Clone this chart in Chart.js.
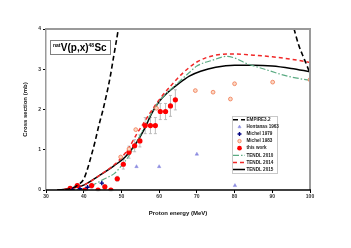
<!DOCTYPE html>
<html>
<head>
<meta charset="utf-8">
<script src="https://cdn.jsdelivr.net/npm/chart.js@4"></script>
<style>
  html, body { margin: 0; padding: 0; background: #fff; }
</style>
</head>
<body>
<canvas id="xs" width="351" height="248"></canvas>
<script>
// energies in MeV, cross sections in mb
const empireE = [33, 35, 37, 39, 40, 41, 42, 43, 44, 45, 46, 47, 48, 49, 49.6, null, 95.2, 97, 98.5, 100];
const empireV = [0, 0.01, 0.05, 0.16, 0.27, 0.52, 0.85, 1.2, 1.6, 1.95, 2.35, 2.8, 3.35, 3.9, 4.3, null, 4.2, 3.6, 3.25, 2.9];

const t2015E = [33, 36, 40, 44, 48, 51, 54, 56, 58, 60, 62, 65, 68, 71, 75, 80, 85, 90, 95, 100];
const t2015V = [0, 0.03, 0.12, 0.35, 0.6, 0.82, 1.18, 1.5, 1.9, 2.2, 2.4, 2.63, 2.83, 2.95, 3.05, 3.1, 3.1, 3.08, 3.02, 2.94];

const t2014E = [33, 36, 40, 44, 48, 50, 52, 54, 56, 58, 60, 63, 66, 70, 75, 80, 85, 90, 95, 100];
const t2014V = [0, 0.03, 0.12, 0.35, 0.62, 0.8, 1.05, 1.38, 1.68, 1.97, 2.24, 2.58, 2.88, 3.18, 3.35, 3.38, 3.35, 3.31, 3.25, 3.17];

const t2010E = [36, 40, 42, 44, 46, 48, 50, 52, 54, 56, 58, 60, 62, 64, 66, 68, 70, 74, 78, 80, 83, 88, 94, 100];
const t2010V = [0, 0.03, 0.1, 0.2, 0.3, 0.4, 0.6, 0.85, 1.18, 1.55, 1.92, 2.2, 2.4, 2.58, 2.75, 2.92, 3.08, 3.22, 3.32, 3.28, 3.15, 3.0, 2.83, 2.72];

const workE = [36.4, 38.3, 40.3, 42.1, 43.8, 45.6, 47.2, 48.9, 50.5, 52.0, 53.5, 54.9, 56.3, 57.7, 59.0, 60.3, 61.7, 63.0, 64.3];
const workV = [0.04, 0.11, 0, 0.11, 0, 0.08, 0, 0.28, 0.64, 0.94, 1.1, 1.22, 1.6, 1.6, 1.6, 1.95, 1.95, 2.09, 2.24];
const workErrV = [0.03, 0.04, 0.02, 0.06, 0.02, 0.05, 0.02, 0.06, 0.12, 0.15, 0.15, 0.15, 0.2, 0.2, 0.2, 0.2, 0.2, 0.26, 0.25];
const workErrE = [0.8, 0.8, 0.8, 0.8, 0.7, 0.7, 0.7, 0.7, 0.6, 0.6, 0.6, 0.5, 0.5, 0.5, 0.5, 0.5, 0.5, 0.5, 0.5];

const hont63E = [54.0, 60.0, 70.0, 80.1];
const hont63V = [0.58, 0.58, 0.89, 0.11];

const mich79E = [37.0, 39.0, 41.0, 44.8];
const mich79V = [0.01, 0.03, 0.07, 0.17];

const mich83E = [49.8, 52.0, 53.8, 59.3, 69.6, 74.3, 78.9, 80.0, 90.1, 100];
const mich83V = [0.82, 1.02, 1.5, 2.03, 2.47, 2.43, 2.26, 2.64, 2.68, 2.74];

const xTicks = [30, 40, 50, 60, 70, 80, 90, 100];
const yTicks = [0, 1, 2, 3, 4];

function pts(xs, ys) {
  return xs.map((x, i) => (x === null ? { x: NaN, y: null } : { x: x, y: ys[i] }));
}

const FONT = "'Liberation Sans', Arial, sans-serif";

const datasets = [
  { label: "EMPIRE3.2", data: pts(empireE, empireV), showLine: true, spanGaps: false,
    borderColor: "#000", borderWidth: 1.6, borderDash: [5, 3], pointRadius: 0, cubicInterpolationMode: "monotone" },
  { label: "Hontanas 1963", data: pts(hont63E, hont63V), showLine: false,
    pointStyle: "triangle", pointRadius: 2, backgroundColor: "#8c8ce0", borderColor: "#8c8ce0", borderWidth: 0.5 },
  { label: "Michel 1979", data: pts(mich79E, mich79V), showLine: false,
    pointStyle: "cross", pointRadius: 2.2, borderColor: "#000080", backgroundColor: "#000080", borderWidth: 1.4 },
  { label: "Michel 1983", data: pts(mich83E, mich83V), showLine: false,
    pointStyle: "circle", pointRadius: 1.9, borderColor: "#f07850", backgroundColor: "#fcd8c4", borderWidth: 0.8 },
  { label: "this work", data: pts(workE, workV), showLine: false,
    pointStyle: "circle", pointRadius: 2.6, borderColor: "#ff0000", backgroundColor: "#ff0000", borderWidth: 0 },
  { label: "TENDL 2010", data: pts(t2010E, t2010V), showLine: true,
    borderColor: "#5bab83", borderWidth: 1.2, borderDash: [6, 2, 1.5, 2], pointRadius: 0, cubicInterpolationMode: "monotone" },
  { label: "TENDL 2014", data: pts(t2014E, t2014V), showLine: true,
    borderColor: "#f02828", borderWidth: 1.5, borderDash: [4, 3], pointRadius: 0, cubicInterpolationMode: "monotone" },
  { label: "TENDL 2015", data: pts(t2015E, t2015V), showLine: true,
    borderColor: "#000", borderWidth: 1.5, pointRadius: 0, cubicInterpolationMode: "monotone" }
];

// error bars for "this work", frame, reaction label and legend box
const extras = {
  id: "extras",
  beforeDatasetsDraw(chart) {
    const { ctx, scales: { x, y } } = chart;
    ctx.save();
    ctx.strokeStyle = "#b4b4b4";
    ctx.lineWidth = 0.9;
    workE.forEach((e, i) => {
      const px = x.getPixelForValue(e), py = y.getPixelForValue(workV[i]);
      const y1 = y.getPixelForValue(workV[i] - workErrV[i]), y2 = y.getPixelForValue(workV[i] + workErrV[i]);
      const x1 = x.getPixelForValue(e - workErrE[i]), x2 = x.getPixelForValue(e + workErrE[i]);
      ctx.beginPath();
      ctx.moveTo(px, y1); ctx.lineTo(px, y2);
      ctx.moveTo(px - 1.5, y1); ctx.lineTo(px + 1.5, y1);
      ctx.moveTo(px - 1.5, y2); ctx.lineTo(px + 1.5, y2);
      ctx.moveTo(x1, py); ctx.lineTo(x2, py);
      ctx.stroke();
    });
    ctx.restore();
  },
  afterDraw(chart) {
    const { ctx, chartArea: a } = chart;
    ctx.save();
    // frame
    ctx.strokeStyle = "#9a9a9a";
    ctx.lineWidth = 2;
    ctx.beginPath();
    ctx.moveTo(a.left, a.top); ctx.lineTo(a.right, a.top); ctx.lineTo(a.right, a.bottom);
    ctx.stroke();
    ctx.strokeStyle = "#000";
    ctx.lineWidth = 1.5;
    ctx.beginPath();
    ctx.moveTo(a.left, a.bottom); ctx.lineTo(a.right + 1, a.bottom);
    ctx.stroke();

    // reaction label
    const bx = a.left + 4, by = a.top + 11;
    ctx.fillStyle = "#fff";
    ctx.fillRect(bx, by, 60, 14);
    ctx.strokeStyle = "#808080";
    ctx.lineWidth = 1;
    ctx.strokeRect(bx + 0.5, by + 0.5, 60, 14);
    ctx.fillStyle = "#000";
    ctx.textBaseline = "alphabetic";
    let tx = bx + 3;
    const base = by + 11;
    const parts = [["nat", 5, -4], ["V(p,x)", 10, 0], ["48", 5, -4], ["Sc", 10, 0]];
    parts.forEach(([s, sz, dy]) => {
      ctx.font = "bold " + sz + "px " + FONT;
      ctx.fillText(s, tx, base + dy);
      tx += ctx.measureText(s).width + (sz < 8 ? 0.3 : 0);
    });

    // legend
    const lx = 232, ly = 116, lw = 45, lh = 57;
    ctx.fillStyle = "#fff";
    ctx.fillRect(lx, ly, lw, lh);
    ctx.strokeStyle = "#c8c8c8";
    ctx.lineWidth = 1;
    ctx.strokeRect(lx + 0.5, ly + 0.5, lw, lh);
    ctx.font = "bold 4.6px " + FONT;
    ctx.textBaseline = "middle";
    chart.data.datasets.forEach((ds, i) => {
      const cy = ly + 3.8 + i * 7.1;
      if (ds.showLine) {
        ctx.strokeStyle = ds.borderColor;
        ctx.lineWidth = ds.borderWidth;
        ctx.setLineDash(ds.borderDash || []);
        ctx.beginPath();
        ctx.moveTo(lx + 1, cy); ctx.lineTo(lx + 13, cy);
        ctx.stroke();
        ctx.setLineDash([]);
      } else {
        ctx.fillStyle = ds.backgroundColor;
        ctx.strokeStyle = ds.borderColor;
        ctx.lineWidth = ds.borderWidth;
        Chart.helpers.drawPoint(ctx, { pointStyle: ds.pointStyle, radius: ds.pointRadius * 0.9, borderWidth: ds.borderWidth }, lx + 7.5, cy);
      }
      ctx.fillStyle = "#222";
      ctx.fillText(ds.label, lx + 14.5, cy);
    });
    ctx.restore();
  }
};

new Chart(document.getElementById("xs"), {
  type: "scatter",
  data: { datasets: datasets },
  options: {
    responsive: false,
    animation: false,
    devicePixelRatio: 1,
    layout: { padding: { top: 29, right: 41, left: 22, bottom: 31 } },
    plugins: { legend: { display: false }, tooltip: { enabled: false } },
    scales: {
      x: {
        type: "linear", min: 30, max: 100,
        afterBuildTicks: (s) => { s.ticks = xTicks.map((v) => ({ value: v })); },
        afterFit: (s) => { s.height = 27; },
        grid: { display: true, drawOnChartArea: false, drawTicks: true, tickLength: 3, color: "#000" },
        border: { display: false },
        ticks: { font: { family: FONT, size: 5, weight: "bold" }, color: "#333", padding: 1, maxRotation: 0 },
        title: { display: true, text: "Proton energy (MeV)", font: { family: FONT, size: 6, weight: "bold" }, color: "#111", padding: 0 }
      },
      y: {
        type: "linear", min: 0, max: 4,
        afterBuildTicks: (s) => { s.ticks = yTicks.map((v) => ({ value: v })); },
        afterFit: (s) => { s.width = 24; },
        grid: { display: true, drawOnChartArea: false, drawTicks: true, tickLength: 3, color: "#000" },
        border: { display: true, color: "#9a9a9a", width: 1.5 },
        ticks: { font: { family: FONT, size: 5, weight: "bold" }, color: "#333", padding: 2 },
        title: { display: true, text: "Cross section (mb)", font: { family: FONT, size: 6, weight: "bold" }, color: "#111", padding: 0 }
      }
    }
  },
  plugins: [extras]
});
</script>
</body>
</html>
